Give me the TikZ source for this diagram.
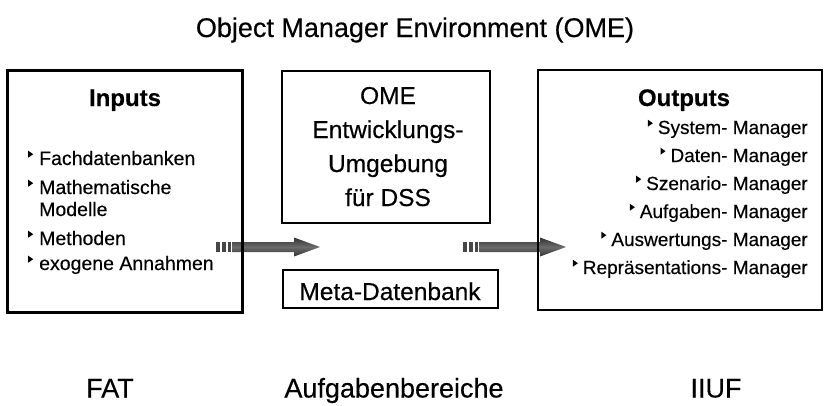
\documentclass[tikz,border=0pt]{standalone}
\usepackage{fontspec}
\setmainfont{Liberation Sans}[FakeBold=0.35]
\newcommand\tri{\tikz[baseline=0pt,x=1pt,y=1pt]\fill[black] (0,7.3)--(0,14.3)--(5,10.8)--cycle;}
\begin{document}
\begin{tikzpicture}[x=1pt,y=-1pt,
  box/.style={draw=black,line width=2.6pt},
  big/.style={font=\fontsize{27}{30}\selectfont,anchor=base,inner sep=0pt},
  mid/.style={font=\fontsize{24.5}{28}\selectfont,anchor=base,inner sep=0pt},
  head/.style={font=\fontsize{24}{28}\selectfont\bfseries,anchor=base,inner sep=0pt},
  itemL/.style={font=\fontsize{19.5}{22}\selectfont,anchor=base west,inner sep=0pt},
  itemR/.style={font=\fontsize{19}{22}\selectfont,anchor=base east,inner sep=0pt},
  fatarrow/.style={top color=black!80,bottom color=black!80,middle color=black!58,draw=none},
  stripe/.style={fill=black!72,draw=none}]
\useasboundingbox (0,0) rectangle (827,405);

% title
\node[big] (title) at (415,37) {Object Manager Environment (OME)};

% arrows (drawn first, boxes on top)
\coordinate (a1s) at (216,247);
\coordinate (a1t) at (320,247);
\fill[stripe] (216,242) rectangle (220,252);
\fill[stripe] (222,242) rectangle (226,252);
\fill[stripe] (228,242) rectangle (231,252);
\shade[fatarrow] (232,242) -- (294,242) -- (294,237.5) -- (a1t) -- (294,256.5) -- (294,252) -- (232,252) -- cycle;

\coordinate (a2s) at (463,247);
\coordinate (a2t) at (566,247);
\fill[stripe] (463,242) rectangle (467,252);
\fill[stripe] (469,242) rectangle (473,252);
\fill[stripe] (475,242) rectangle (478,252);
\shade[fatarrow] (479,242) -- (540,242) -- (540,237.5) -- (a2t) -- (540,256.5) -- (540,252) -- (479,252) -- cycle;

% boxes
\node[box,minimum width=235pt,minimum height=242pt,inner sep=0pt] (inbox) at (125,191.5) {};
\node[box,minimum width=208pt,minimum height=152pt,inner sep=0pt] (omebox) at (386,147) {};
\node[box,minimum width=215pt,minimum height=38pt,inner sep=0pt] (metabox) at (390.5,289) {};
\node[box,minimum width=284pt,minimum height=240pt,inner sep=0pt] (outbox) at (680,190) {};

% inputs
\node[head] (inh) at (125,106) {Inputs};
\node[itemL] (i1) at (28,165) {\tri\hspace{6pt}Fachdatenbanken};
\node[itemL] (i2) at (28,194) {\tri\hspace{6pt}Mathematische};
\node[itemL] (i2b) at (39,216) {Modelle};
\node[itemL] (i3) at (28,245) {\tri\hspace{6pt}Methoden};
\node[itemL] (i4) at (28,270) {\tri\hspace{6pt}exogene Annahmen};

% middle
\node[mid] (m1) at (388,104) {OME};
\node[mid] (m2) at (388,138) {Entwicklungs-};
\node[mid] (m3) at (388,172) {Umgebung};
\node[mid] (m4) at (388,206) {für DSS};
\node[mid] (meta) at (390,300) {Meta-Datenbank};

% outputs
\node[head] (outh) at (684,106) {Outputs};
\node[itemR] (o1) at (808,134) {\tri\hspace{5pt}System- Manager};
\node[itemR] (o2) at (808,162) {\tri\hspace{5pt}Daten- Manager};
\node[itemR] (o3) at (808,190) {\tri\hspace{5pt}Szenario- Manager};
\node[itemR] (o4) at (808,218) {\tri\hspace{5pt}Aufgaben- Manager};
\node[itemR] (o5) at (808,246) {\tri\hspace{5pt}Auswertungs- Manager};
\node[itemR] (o6) at (808,274) {\tri\hspace{5pt}Repräsentations- Manager};

% bottom labels
\node[big] (fat) at (110,397.5) {FAT};
\node[big] (auf) at (394,397.5) {Aufgabenbereiche};
\node[big] (iiuf) at (716,397.5) {IIUF};
\end{tikzpicture}
\end{document}
